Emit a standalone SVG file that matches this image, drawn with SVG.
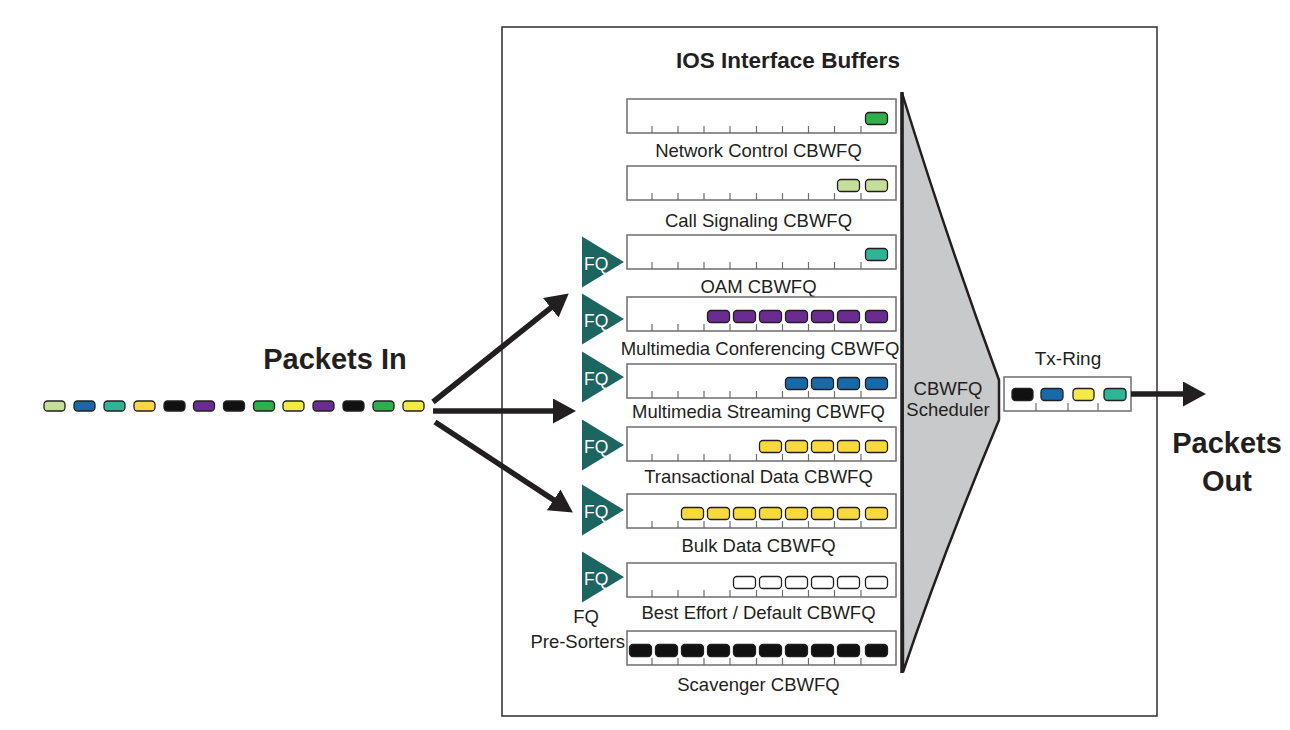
<svg xmlns="http://www.w3.org/2000/svg" xmlns:xlink="http://www.w3.org/1999/xlink" width="1290" height="730" viewBox="0 0 1290 730">
<style>
text{font-family:"Liberation Sans",Arial,Helvetica,sans-serif;fill:#231f20}
.lbl{font-size:18.5px;text-anchor:middle}
.big{font-size:29px;font-weight:bold}
.title{font-size:22.5px;font-weight:bold;text-anchor:middle}
.fqt{font-size:17.5px;fill:#ffffff}
.qbox{fill:#ffffff;stroke:#6d6e71;stroke-width:1.5}
.tk{stroke:#6d6e71;stroke-width:1.2;fill:none}
.pk{stroke:#231f20;stroke-width:1.3}
.lg{fill:#c5df9a}.bl{fill:#1769a8}.te{fill:#2db596}.go{fill:#fad93c}.ye{fill:#f4ea45}
.bk{fill:#111111}.pu{fill:#6b2c91}.gr{fill:#2fae4a}.wh{fill:#ffffff}
.fq{fill:#1d6560}
.arr{stroke:#231f20;stroke-width:5.5;fill:none}
</style>
<defs>
<path id="ticks" d="M652,0v7M678,0v7M704,0v7M730,0v7M756.5,0v7M782.5,0v7M808.5,0v7M834.5,0v7M861,0v7"/>
<marker id="ah" markerUnits="userSpaceOnUse" markerWidth="24" markerHeight="26" refX="4" refY="12.5" orient="auto">
<path d="M0,0L23,12.5L0,25z" fill="#231f20"/>
</marker>
</defs>
<rect width="1290" height="730" fill="#ffffff"/>

<g id="interface-buffers">
<rect x="502" y="27" width="655" height="689" fill="none" stroke="#3a3a3a" stroke-width="1.6"/>
<text class="title" x="788" y="68">IOS Interface Buffers</text>
</g>

<g id="packets-in">
<rect class="pk lg" x="44" y="401" width="21" height="10" rx="3.5"/>
<rect class="pk bl" x="74" y="401" width="21" height="10" rx="3.5"/>
<rect class="pk te" x="104" y="401" width="21" height="10" rx="3.5"/>
<rect class="pk go" x="134" y="401" width="21" height="10" rx="3.5"/>
<rect class="pk bk" x="164" y="401" width="21" height="10" rx="3.5"/>
<rect class="pk pu" x="193.5" y="401" width="21" height="10" rx="3.5"/>
<rect class="pk bk" x="223.5" y="401" width="21" height="10" rx="3.5"/>
<rect class="pk gr" x="253.5" y="401" width="21" height="10" rx="3.5"/>
<rect class="pk ye" x="283" y="401" width="21" height="10" rx="3.5"/>
<rect class="pk pu" x="313" y="401" width="21" height="10" rx="3.5"/>
<rect class="pk bk" x="343" y="401" width="21" height="10" rx="3.5"/>
<rect class="pk gr" x="373" y="401" width="21" height="10" rx="3.5"/>
<rect class="pk ye" x="403" y="401" width="21" height="10" rx="3.5"/>
<text class="big" x="335" y="369" text-anchor="middle">Packets In</text>
</g>

<g id="q-network-control">
<rect class="qbox" x="627" y="99" width="269" height="34"/>
<use href="#ticks" xlink:href="#ticks" class="tk" y="126"/>
<rect class="pk gr" x="865.5" y="112.5" width="22" height="12" rx="3.5"/>
<text class="lbl" x="758.5" y="157">Network Control CBWFQ</text>
</g>

<g id="q-call-signaling">
<rect class="qbox" x="627" y="166" width="269" height="34"/>
<use href="#ticks" xlink:href="#ticks" class="tk" y="193"/>
<rect class="pk lg" x="837.5" y="179.5" width="22" height="12" rx="3.5"/>
<rect class="pk lg" x="865.5" y="179.5" width="22" height="12" rx="3.5"/>
<text class="lbl" x="758.5" y="227">Call Signaling CBWFQ</text>
</g>

<g id="q-oam">
<rect class="qbox" x="627" y="235" width="269" height="34"/>
<use href="#ticks" xlink:href="#ticks" class="tk" y="262"/>
<rect class="pk te" x="865.5" y="248.5" width="22" height="12" rx="3.5"/>
<text class="lbl" x="758.5" y="293">OAM CBWFQ</text>
</g>

<g id="q-multimedia-conferencing">
<rect class="qbox" x="627" y="297" width="269" height="34"/>
<use href="#ticks" xlink:href="#ticks" class="tk" y="324"/>
<rect class="pk pu" x="707.5" y="310.5" width="22" height="12" rx="3.5"/>
<rect class="pk pu" x="733.5" y="310.5" width="22" height="12" rx="3.5"/>
<rect class="pk pu" x="759.5" y="310.5" width="22" height="12" rx="3.5"/>
<rect class="pk pu" x="785.5" y="310.5" width="22" height="12" rx="3.5"/>
<rect class="pk pu" x="811.5" y="310.5" width="22" height="12" rx="3.5"/>
<rect class="pk pu" x="837.5" y="310.5" width="22" height="12" rx="3.5"/>
<rect class="pk pu" x="865.5" y="310.5" width="22" height="12" rx="3.5"/>
<text class="lbl" x="760" y="355">Multimedia Conferencing CBWFQ</text>
</g>

<g id="q-multimedia-streaming">
<rect class="qbox" x="627" y="364" width="269" height="34"/>
<use href="#ticks" xlink:href="#ticks" class="tk" y="391"/>
<rect class="pk bl" x="785.5" y="377.5" width="22" height="12" rx="3.5"/>
<rect class="pk bl" x="811.5" y="377.5" width="22" height="12" rx="3.5"/>
<rect class="pk bl" x="837.5" y="377.5" width="22" height="12" rx="3.5"/>
<rect class="pk bl" x="865.5" y="377.5" width="22" height="12" rx="3.5"/>
<text class="lbl" x="758.5" y="418">Multimedia Streaming CBWFQ</text>
</g>

<g id="q-transactional-data">
<rect class="qbox" x="627" y="427" width="269" height="34"/>
<use href="#ticks" xlink:href="#ticks" class="tk" y="454"/>
<rect class="pk go" x="759.5" y="440.5" width="22" height="12" rx="3.5"/>
<rect class="pk go" x="785.5" y="440.5" width="22" height="12" rx="3.5"/>
<rect class="pk go" x="811.5" y="440.5" width="22" height="12" rx="3.5"/>
<rect class="pk go" x="837.5" y="440.5" width="22" height="12" rx="3.5"/>
<rect class="pk go" x="865.5" y="440.5" width="22" height="12" rx="3.5"/>
<text class="lbl" x="758.5" y="483">Transactional Data CBWFQ</text>
</g>

<g id="q-bulk-data">
<rect class="qbox" x="627" y="494" width="269" height="34"/>
<use href="#ticks" xlink:href="#ticks" class="tk" y="521"/>
<rect class="pk go" x="681.5" y="507.5" width="22" height="12" rx="3.5"/>
<rect class="pk go" x="707.5" y="507.5" width="22" height="12" rx="3.5"/>
<rect class="pk go" x="733.5" y="507.5" width="22" height="12" rx="3.5"/>
<rect class="pk go" x="759.5" y="507.5" width="22" height="12" rx="3.5"/>
<rect class="pk go" x="785.5" y="507.5" width="22" height="12" rx="3.5"/>
<rect class="pk go" x="811.5" y="507.5" width="22" height="12" rx="3.5"/>
<rect class="pk go" x="837.5" y="507.5" width="22" height="12" rx="3.5"/>
<rect class="pk go" x="865.5" y="507.5" width="22" height="12" rx="3.5"/>
<text class="lbl" x="758.5" y="552">Bulk Data CBWFQ</text>
</g>

<g id="q-best-effort">
<rect class="qbox" x="627" y="563" width="269" height="34"/>
<use href="#ticks" xlink:href="#ticks" class="tk" y="590"/>
<rect class="pk wh" x="733.5" y="576.5" width="22" height="12" rx="3.5"/>
<rect class="pk wh" x="759.5" y="576.5" width="22" height="12" rx="3.5"/>
<rect class="pk wh" x="785.5" y="576.5" width="22" height="12" rx="3.5"/>
<rect class="pk wh" x="811.5" y="576.5" width="22" height="12" rx="3.5"/>
<rect class="pk wh" x="837.5" y="576.5" width="22" height="12" rx="3.5"/>
<rect class="pk wh" x="865.5" y="576.5" width="22" height="12" rx="3.5"/>
<text class="lbl" x="758.5" y="619">Best Effort / Default CBWFQ</text>
</g>

<g id="q-scavenger">
<rect class="qbox" x="627" y="631" width="269" height="34"/>
<use href="#ticks" xlink:href="#ticks" class="tk" y="658"/>
<rect class="pk bk" x="629.5" y="644.5" width="22" height="12" rx="3.5"/>
<rect class="pk bk" x="655.5" y="644.5" width="22" height="12" rx="3.5"/>
<rect class="pk bk" x="681.5" y="644.5" width="22" height="12" rx="3.5"/>
<rect class="pk bk" x="707.5" y="644.5" width="22" height="12" rx="3.5"/>
<rect class="pk bk" x="733.5" y="644.5" width="22" height="12" rx="3.5"/>
<rect class="pk bk" x="759.5" y="644.5" width="22" height="12" rx="3.5"/>
<rect class="pk bk" x="785.5" y="644.5" width="22" height="12" rx="3.5"/>
<rect class="pk bk" x="811.5" y="644.5" width="22" height="12" rx="3.5"/>
<rect class="pk bk" x="837.5" y="644.5" width="22" height="12" rx="3.5"/>
<rect class="pk bk" x="865.5" y="644.5" width="22" height="12" rx="3.5"/>
<text class="lbl" x="758.5" y="691">Scavenger CBWFQ</text>
</g>

<g id="fq-oam"><path class="fq" d="M582,236.5L624,262L582,287.5z"/><text class="fqt" x="584" y="269.5">FQ</text></g>
<g id="fq-conferencing"><path class="fq" d="M582,293.5L624,319L582,344.5z"/><text class="fqt" x="584" y="326.5">FQ</text></g>
<g id="fq-streaming"><path class="fq" d="M582,351.5L624,377L582,402.5z"/><text class="fqt" x="584" y="384.5">FQ</text></g>
<g id="fq-transactional"><path class="fq" d="M582,419.5L624,445L582,470.5z"/><text class="fqt" x="584" y="452.5">FQ</text></g>
<g id="fq-bulk"><path class="fq" d="M582,484.5L624,510L582,535.5z"/><text class="fqt" x="584" y="517.5">FQ</text></g>
<g id="fq-best-effort"><path class="fq" d="M582,551.5L624,577L582,602.5z"/><text class="fqt" x="584" y="584.5">FQ</text></g>
<g id="fq-label">
<text class="lbl" x="586" y="623">FQ</text>
<text class="lbl" x="625" y="648" text-anchor="end" style="text-anchor:end">Pre-Sorters</text>
</g>

<g id="scheduler">
<path d="M902,93Q948,242 999,380L999,420Q942,556 903,672Z" fill="#c8c9cb" stroke="#231f20" stroke-width="2.5" stroke-linejoin="miter"/>
<line x1="902" y1="92" x2="902" y2="673" stroke="#231f20" stroke-width="3.5"/>
<text class="lbl" x="948" y="395">CBWFQ</text>
<text class="lbl" x="948" y="416">Scheduler</text>
</g>

<g id="tx-ring">
<text class="lbl" x="1068" y="365" style="font-size:19px">Tx-Ring</text>
<rect class="qbox" x="1004" y="377" width="127" height="34"/>
<path class="tk" d="M1036,403v8M1068,403v8M1098,403v8"/>
<rect class="pk bk" x="1012" y="388.5" width="21" height="12" rx="3.5"/>
<rect class="pk bl" x="1041" y="388.5" width="22" height="12" rx="3.5"/>
<rect class="pk ye" x="1073" y="388.5" width="21" height="12" rx="3.5"/>
<rect class="pk te" x="1104" y="388.5" width="22" height="12" rx="3.5"/>
</g>

<g id="packets-out">
<text class="big" x="1227" y="453" text-anchor="middle">Packets</text>
<text class="big" x="1227" y="491" text-anchor="middle">Out</text>
</g>

<g id="connectors">
<path class="arr" d="M433,402L553.9,305.3" marker-end="url(#ah)"/>
<path class="arr" d="M433,411L557,411" marker-end="url(#ah)"/>
<path class="arr" d="M435,422L557,502.1" marker-end="url(#ah)"/>
<path class="arr" d="M1131,394L1187,394" marker-end="url(#ah)"/>
</g>
</svg>
